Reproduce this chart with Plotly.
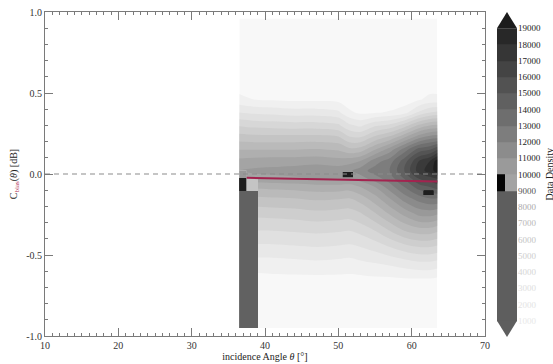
import numpy as np
import plotly.graph_objects as go

# ---- density field: incidence angle (deg) x bias (dB) ----
angle_grid = [36.5, 38.5, 41, 44, 47, 50, 51.5, 53, 55, 57, 59, 61, 62.5, 63.5]
bias_grid = [-0.95, -0.8, -0.65, -0.55, -0.45, -0.35, -0.25, -0.15, -0.08, -0.03,
             0.02, 0.08, 0.15, 0.22, 0.3, 0.38, 0.46, 0.55, 0.7, 0.96]
# data density in thousands of samples, one row per bias_grid value
density_k = [
    [0.3, 0.3, 0.3, 0.3, 0.3, 0.3, 0.3, 0.3, 0.3, 0.4, 0.4, 0.5, 0.5, 0.5],
    [0.5, 0.5, 0.5, 0.5, 0.5, 0.5, 0.5, 0.5, 0.5, 0.6, 0.6, 0.7, 0.7, 0.7],
    [0.6, 0.6, 0.7, 0.7, 0.7, 0.7, 0.7, 0.7, 0.8, 0.8, 0.9, 0.9, 0.9, 0.8],
    [1.6, 1.6, 1.6, 1.7, 1.8, 1.7, 1.6, 1.8, 2.0, 2.2, 2.5, 2.8, 2.8, 2.6],
    [2.8, 2.8, 2.8, 2.9, 3.0, 2.9, 2.8, 3.0, 3.4, 4.0, 4.6, 5.0, 5.0, 4.8],
    [4.0, 4.0, 4.0, 4.1, 4.2, 4.1, 4.0, 4.3, 5.0, 6.0, 7.0, 7.5, 7.5, 7.2],
    [5.2, 5.2, 5.3, 5.4, 5.6, 5.5, 5.4, 5.8, 6.8, 8.0, 9.2, 10.2, 10.3, 10.0],
    [6.8, 6.8, 6.9, 7.0, 7.2, 7.1, 7.0, 7.5, 8.6, 10.0, 11.5, 12.5, 13.0, 13.0],
    [8.2, 8.2, 8.3, 8.4, 8.6, 8.6, 8.5, 9.0, 10.0, 11.5, 13.0, 14.5, 15.0, 15.5],
    [9.6, 9.6, 9.7, 9.8, 10.0, 10.0, 10.0, 10.5, 11.5, 12.5, 14.0, 16.0, 16.5, 17.0],
    [10.0, 10.2, 10.3, 10.5, 10.7, 10.6, 10.8, 11.5, 12.5, 13.0, 15.0, 17.5, 18.5, 19.5],
    [9.3, 9.4, 9.5, 9.5, 9.6, 9.4, 9.6, 10.0, 11.5, 12.5, 14.5, 17.0, 18.0, 19.5],
    [8.0, 8.0, 8.0, 8.0, 8.1, 7.9, 7.3, 7.5, 9.0, 10.5, 12.5, 14.5, 15.0, 16.0],
    [6.6, 6.5, 6.5, 6.5, 6.5, 6.3, 5.3, 5.2, 6.5, 7.5, 9.2, 11.0, 11.8, 12.0],
    [4.9, 4.7, 4.6, 4.5, 4.5, 4.2, 3.2, 2.8, 3.8, 4.3, 5.5, 7.2, 8.0, 8.2],
    [3.0, 2.8, 2.7, 2.5, 2.5, 2.2, 1.2, 0.8, 0.9, 1.1, 1.6, 3.2, 4.0, 4.2],
    [1.3, 1.0, 0.9, 0.8, 0.8, 0.7, 0.4, 0.3, 0.3, 0.3, 0.4, 0.9, 1.3, 1.3],
    [0.5, 0.4, 0.4, 0.3, 0.3, 0.3, 0.2, 0.2, 0.2, 0.2, 0.2, 0.4, 0.5, 0.5],
    [0.3, 0.3, 0.3, 0.3, 0.3, 0.3, 0.3, 0.3, 0.3, 0.3, 0.3, 0.3, 0.3, 0.3],
    [0.2, 0.2, 0.2, 0.2, 0.2, 0.2, 0.2, 0.2, 0.2, 0.2, 0.2, 0.2, 0.2, 0.2],
]

# rectangular binned cells: (angle0, angle1, bias0, bias1, density)
block_cells = [
    (36.5, 39.05, -0.95, -0.105, 14500),
    (36.5, 37.5, -0.105, -0.025, 25000),
    (37.5, 39.05, -0.105, -0.025, 6500),
    (36.5, 37.5, -0.025, 0.02, 10500),
    (50.6, 52.0, -0.02, 0.012, 25000),
    (61.6, 63.0, -0.13, -0.10, 21000),
]

# linear bias fit over the angle range
fit_angle = [37.5, 63.5]
fit_bias = [-0.023, -0.047]

# contour levels
level_start, level_end, level_step = 1000, 19000, 1000

# colour bar: band edges, shades (left / right half of each band) and label colours
cbar_edges = list(range(1000, 20000, 1000))
cbar_shades_left = ["#5e5e5e"] * 8 + ["#050505", "#9a9a9a", "#8c8c8c", "#7d7d7d",
                                       "#6e6e6e", "#606060", "#525252", "#444444",
                                       "#363636", "#282828"]
cbar_shades_right = ["#5e5e5e"] * 8 + ["#a3a3a3", "#9a9a9a", "#8c8c8c", "#7d7d7d",
                                        "#6e6e6e", "#606060", "#525252", "#444444",
                                        "#363636", "#282828"]
cbar_over_color = "#1c1c1c"
cbar_under_color = "#5e5e5e"
cbar_label_colors = ["#e8e8e8", "#e4e4e4", "#dedede", "#d6d6d6", "#cecece",
                     "#c4c4c4", "#b8b8b8", "#aaaaaa", "#555555"] + ["#222222"] * 10

x_ticks = [10, 20, 30, 40, 50, 60, 70]
y_ticks = [-1.0, -0.5, 0.0, 0.5, 1.0]
y_tick_text = ["-1.0", "-0.5", "0.0", "0.5", "1.0"]

# stepped grey scale for the field: one shade per 1000-sample band (20 bands)
band_grays = [248, 240, 232, 224, 215, 206, 196, 186, 175, 164,
              153, 139, 125, 111, 97, 84, 71, 58, 45, 30]
grey_scale = []
for i, g in enumerate(band_grays):
    c = f"rgb({g},{g},{g})"
    grey_scale.append([i / len(band_grays), c])
    grey_scale.append([(i + 1) / len(band_grays), c])

SERIF = "Liberation Serif"
contour_style = dict(
    autocontour=False,
    contours=dict(start=level_start, end=level_end, size=level_step,
                  coloring="fill", showlines=False),
    line=dict(width=0), colorscale=grey_scale, showscale=False,
    hoverinfo="skip", xaxis="x", yaxis="y",
)

fig = go.Figure()

fig.add_trace(go.Contour(x=angle_grid, y=bias_grid,
                         z=np.array(density_k) * 1000, **contour_style))

for a0, a1, b0, b1, d in block_cells:
    fig.add_trace(go.Contour(x=[a0, a1], y=[b0, b1], z=[[d, d], [d, d]],
                             **contour_style))

# zero reference
fig.add_trace(go.Scatter(
    x=[10, 70], y=[0, 0], mode="lines",
    line=dict(color="#8c8c8c", width=1.2, dash="5px,4px"),
    hoverinfo="skip", showlegend=False,
))

# bias fit
fig.add_trace(go.Scatter(
    x=fit_angle, y=fit_bias, mode="lines",
    line=dict(color="#a3234f", width=2),
    hoverinfo="skip", showlegend=False,
))

# ---- colour bar drawn on its own axes ----
palette = sorted(set(cbar_shades_left + cbar_shades_right))
pal_scale = []
for i, c in enumerate(palette):
    pal_scale.append([i / len(palette), c])
    pal_scale.append([(i + 1) / len(palette), c])
cbar_z = [[palette.index(l), palette.index(r)]
          for l, r in zip(cbar_shades_left, cbar_shades_right)]
fig.add_trace(go.Heatmap(
    x=[0, 0.42, 1], y=cbar_edges, z=cbar_z,
    colorscale=pal_scale, zmin=-0.5, zmax=len(palette) - 0.5,
    showscale=False, hoverinfo="skip", xaxis="x2", yaxis="y2",
))
# extension triangles for values beyond the level range
fig.add_trace(go.Scatter(
    x=[0, 1, 0.5, 0], y=[level_end, level_end, 20000, level_end],
    mode="lines", fill="toself", fillcolor=cbar_over_color,
    line=dict(width=0), hoverinfo="skip", showlegend=False,
    xaxis="x2", yaxis="y2",
))
fig.add_trace(go.Scatter(
    x=[0, 1, 0.5, 0], y=[level_start, level_start, 0, level_start],
    mode="lines", fill="toself", fillcolor=cbar_under_color,
    line=dict(width=0), hoverinfo="skip", showlegend=False,
    xaxis="x2", yaxis="y2",
))

axis_common = dict(
    showline=True, linecolor="#7a7a7a", linewidth=1, mirror="ticks",
    ticks="inside", tickcolor="#7a7a7a", showgrid=False, zeroline=False,
    tickfont=dict(family=SERIF, size=10, color="#333"),
)

# plot area spans x 45..485 px, colour bar 497..517 px; paper spans 45..547 px
PAPER_W = 502.0
fig.update_layout(
    xaxis=dict(
        domain=[0, 440 / PAPER_W], range=[10, 70], tickvals=x_ticks, ticklen=8,
        minor=dict(dtick=1, ticklen=3, ticks="inside", tickcolor="#7a7a7a", showgrid=False),
        title=dict(text="incidence Angle <i>θ</i> [°]", standoff=2,
                   font=dict(family=SERIF, size=10, color="#222")),
        **axis_common,
    ),
    yaxis=dict(
        domain=[1 / 325, 1], range=[-1, 1], tickvals=y_ticks, ticktext=y_tick_text, ticklen=8,
        minor=dict(dtick=0.1, ticklen=3, ticks="inside", tickcolor="#7a7a7a", showgrid=False),
        title=dict(text="C<sub><span style='color:#b0304f'>bias</span></sub>(<i>θ</i>) [dB]",
                   standoff=6, font=dict(family=SERIF, size=10, color="#222")),
        **axis_common,
    ),
    xaxis2=dict(domain=[452 / PAPER_W, 472 / PAPER_W], range=[0, 1], anchor="y2",
                visible=False, fixedrange=True),
    yaxis2=dict(domain=[0, 1], range=[0, 20000], anchor="x2", side="right",
                showline=False, showgrid=False, zeroline=False, ticks="",
                tickvals=cbar_edges,
                ticktext=[f"<span style='color:{c}'>{v}</span>"
                          for v, c in zip(cbar_edges, cbar_label_colors)],
                tickfont=dict(family=SERIF, size=9, color="#222"),
                automargin=False, fixedrange=True),
    annotations=[dict(
        text="Data Density", textangle=-90, xref="paper", yref="paper",
        x=(549 - 45) / PAPER_W, y=0.5, xanchor="center", yanchor="middle",
        showarrow=False, font=dict(family=SERIF, size=10, color="#222"),
    )],
    width=553, height=364,
    margin=dict(l=45, r=6, t=12, b=27, autoexpand=False),
    plot_bgcolor="white", paper_bgcolor="white",
    showlegend=False,
)

fig.write_html("out.html")
